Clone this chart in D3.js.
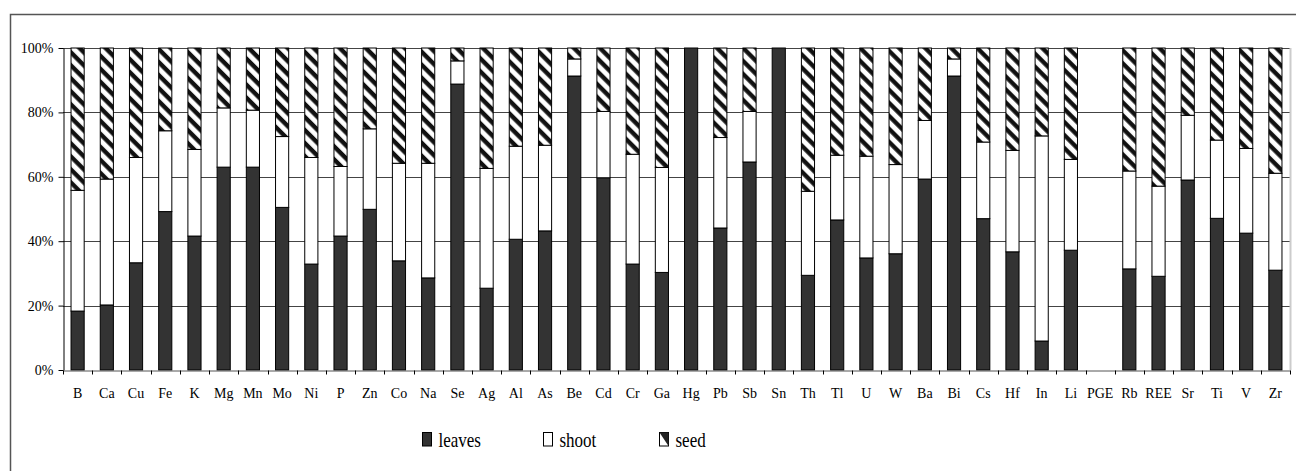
<!DOCTYPE html>
<html>
<head>
<meta charset="utf-8">
<script src="https://cdn.jsdelivr.net/npm/d3@7"></script>
<style>
  body { margin: 0; background: #fff; }
</style>
</head>
<body>
<script>
// Data (percent of total per element)
var categories = ["B", "Ca", "Cu", "Fe", "K", "Mg", "Mn", "Mo", "Ni", "P", "Zn", "Co", "Na", "Se",
  "Ag", "Al", "As", "Be", "Cd", "Cr", "Ga", "Hg", "Pb", "Sb", "Sn", "Th", "Tl", "U", "W", "Ba",
  "Bi", "Cs", "Hf", "In", "Li", "PGE", "Rb", "REE", "Sr", "Ti", "V", "Zr"];
var leaves = [18.3, 20.2, 33.3, 49.2, 41.6, 63.0, 63.0, 50.5, 32.9, 41.6, 49.9, 33.9, 28.6, 88.8,
  25.4, 40.6, 43.2, 91.3, 59.7, 32.9, 30.3, 100, 44.1, 64.6, 100, 29.4, 46.6, 34.8, 36.1, 59.3,
  91.3, 47.0, 36.7, 9.0, 37.2, 0, 31.4, 29.1, 59.0, 47.1, 42.5, 31.0];
var shoot = [37.5, 39.1, 32.7, 25.1, 26.9, 18.4, 17.7, 22.0, 33.1, 21.6, 25.0, 30.3, 35.6, 7.2,
  37.2, 28.9, 26.6, 5.3, 20.6, 34.1, 32.6, 0, 28.1, 15.7, 0, 26.1, 20.1, 31.6, 27.7, 18.2,
  5.3, 23.8, 31.5, 63.7, 28.2, 0, 30.4, 28.0, 20.1, 24.3, 26.3, 30.1];
var seed = [44.2, 40.7, 34.0, 25.7, 31.5, 18.6, 19.3, 27.5, 34.0, 36.8, 25.1, 35.8, 35.8, 4.0,
  37.4, 30.5, 30.2, 3.4, 19.7, 33.0, 37.1, 0, 27.8, 19.7, 0, 44.5, 33.3, 33.6, 36.2, 22.5,
  3.4, 29.2, 31.8, 27.3, 34.6, 0, 38.2, 42.9, 20.9, 28.6, 31.2, 38.9];
var seriesKeys = ["leaves", "shoot", "seed"];
var yTicks = [0, 0.2, 0.4, 0.6, 0.8, 1];

var serif = "Times New Roman, Liberation Serif, Tinos, Noto Serif, DejaVu Serif, serif";

var svgWidth = 1296;
var svgHeight = 471;

// plot area
var margin = { top: 48, right: 6, bottom: 101, left: 63 };
var plotWidth = svgWidth - margin.left - margin.right;
var plotHeight = svgHeight - margin.top - margin.bottom;

var svg = d3.select("body")
  .append("svg")
  .attr("width", svgWidth)
  .attr("height", svgHeight)
  .style("font-family", serif);

svg.append("rect")
  .attr("width", svgWidth)
  .attr("height", svgHeight)
  .attr("fill", "#fff");

// outer chart frame (runs off the right and bottom of the picture)
svg.append("rect")
  .attr("x", 10.5)
  .attr("y", 14.5)
  .attr("width", 1400)
  .attr("height", 600)
  .attr("fill", "none")
  .attr("stroke", "#555")
  .attr("stroke-width", 1.5);

// hatch for the seed series
var defs = svg.append("defs");
defs.append("pattern")
  .attr("id", "hatch")
  .attr("patternUnits", "userSpaceOnUse")
  .attr("width", 9.2)
  .attr("height", 9.2)
  .attr("patternTransform", "rotate(-45)")
  .call(function(p) {
    p.append("rect").attr("width", 9.2).attr("height", 9.2).attr("fill", "#fff");
    p.append("line")
      .attr("x1", 2.5).attr("y1", 0)
      .attr("x2", 2.5).attr("y2", 9.2)
      .attr("stroke", "#111")
      .attr("stroke-width", 4.4);
  });

var chartGroup = svg.append("g")
  .attr("transform", `translate(${margin.left}, ${margin.top})`);

// table for d3.stack
var tableData = categories.map(function(c, i) {
  return { cat: c, leaves: leaves[i], shoot: shoot[i], seed: seed[i] };
});

var xScale = d3.scaleBand()
  .domain(categories)
  .range([0, plotWidth])
  .paddingInner(0.55)
  .paddingOuter(0.275);

var yScale = d3.scaleLinear()
  .domain([0, 1])
  .range([plotHeight, 0]);

// horizontal gridlines
chartGroup.append("g")
  .selectAll("line")
  .data(yTicks.filter(d => d > 0))
  .enter()
  .append("line")
  .attr("x1", 0)
  .attr("x2", plotWidth)
  .attr("y1", d => Math.round(yScale(d)) + 0.5)
  .attr("y2", d => Math.round(yScale(d)) + 0.5)
  .attr("stroke", "#444")
  .attr("stroke-width", 1);

// light right edge of the plot area
chartGroup.append("line")
  .attr("x1", plotWidth + 0.5)
  .attr("x2", plotWidth + 0.5)
  .attr("y1", 0)
  .attr("y2", plotHeight)
  .attr("stroke", "#ccc")
  .attr("stroke-width", 2);

// stacked bars (values normalised to 100%)
var stack = d3.stack()
  .keys(seriesKeys)
  .offset(d3.stackOffsetExpand);
var stacked = stack(tableData);

var fills = { leaves: "#333", shoot: "#fff", seed: "url(#hatch)" };

chartGroup.selectAll(".series")
  .data(stacked)
  .enter()
  .append("g")
  .attr("class", "series")
  .attr("fill", d => fills[d.key])
  .selectAll("rect")
  .data(d => d.filter(s => !isNaN(s[1]) && s[1] - s[0] > 0))
  .enter()
  .append("rect")
  .attr("x", d => xScale(d.data.cat))
  .attr("y", d => yScale(d[1]))
  .attr("width", xScale.bandwidth())
  .attr("height", d => yScale(d[0]) - yScale(d[1]))
  .attr("stroke", "#000")
  .attr("stroke-width", 1);

// y axis
var leftAxis = d3.axisLeft(yScale)
  .tickValues(yTicks)
  .tickFormat(d3.format(".0%"))
  .tickSize(5)
  .tickSizeOuter(0)
  .tickPadding(5);

var yAxisG = chartGroup.append("g")
  .attr("transform", "translate(0.5,0)")
  .call(leftAxis);
yAxisG.attr("font-family", null).attr("font-size", null);
yAxisG.selectAll("text").style("font-size", "14px");
yAxisG.select(".domain").attr("stroke", "#000");

// x axis: labels centred, ticks on the category boundaries
var bottomAxis = d3.axisBottom(xScale)
  .tickSize(0)
  .tickSizeOuter(0)
  .tickPadding(18);

var xAxisG = chartGroup.append("g")
  .attr("transform", `translate(0, ${plotHeight + 0.5})`)
  .call(bottomAxis);
xAxisG.attr("font-family", null).attr("font-size", null);
xAxisG.selectAll("text").style("font-size", "14px");
xAxisG.select(".domain").attr("stroke", "#555");

xAxisG.selectAll(".bound")
  .data(d3.range(categories.length + 1))
  .enter()
  .append("line")
  .attr("class", "bound")
  .attr("x1", i => Math.round(i * xScale.step()) + 0.5)
  .attr("x2", i => Math.round(i * xScale.step()) + 0.5)
  .attr("y1", 0)
  .attr("y2", 4)
  .attr("stroke", "#000");

// legend
var legendX = [422, 543, 659];
var legend = svg.selectAll(".legend")
  .data(seriesKeys)
  .enter()
  .append("g")
  .attr("class", "legend")
  .attr("transform", (d, i) => `translate(${legendX[i]}, 432)`);

legend.append("rect")
  .attr("x", 0.5)
  .attr("y", 0.5)
  .attr("width", 9)
  .attr("height", 13.5)
  .attr("fill", d => d === "seed" ? "#fff" : fills[d])
  .attr("stroke", "#000");

// seed swatch: half-dark triangle like the original
legend.filter(d => d === "seed")
  .append("path")
  .attr("d", "M0.5,0.5 L9.5,0.5 L9.5,14 Z")
  .attr("fill", "#222");

legend.append("text")
  .attr("transform", "translate(16.5, 15) scale(1, 1.25)")
  .style("font-size", "17px")
  .text(d => d);
</script>
</body>
</html>
